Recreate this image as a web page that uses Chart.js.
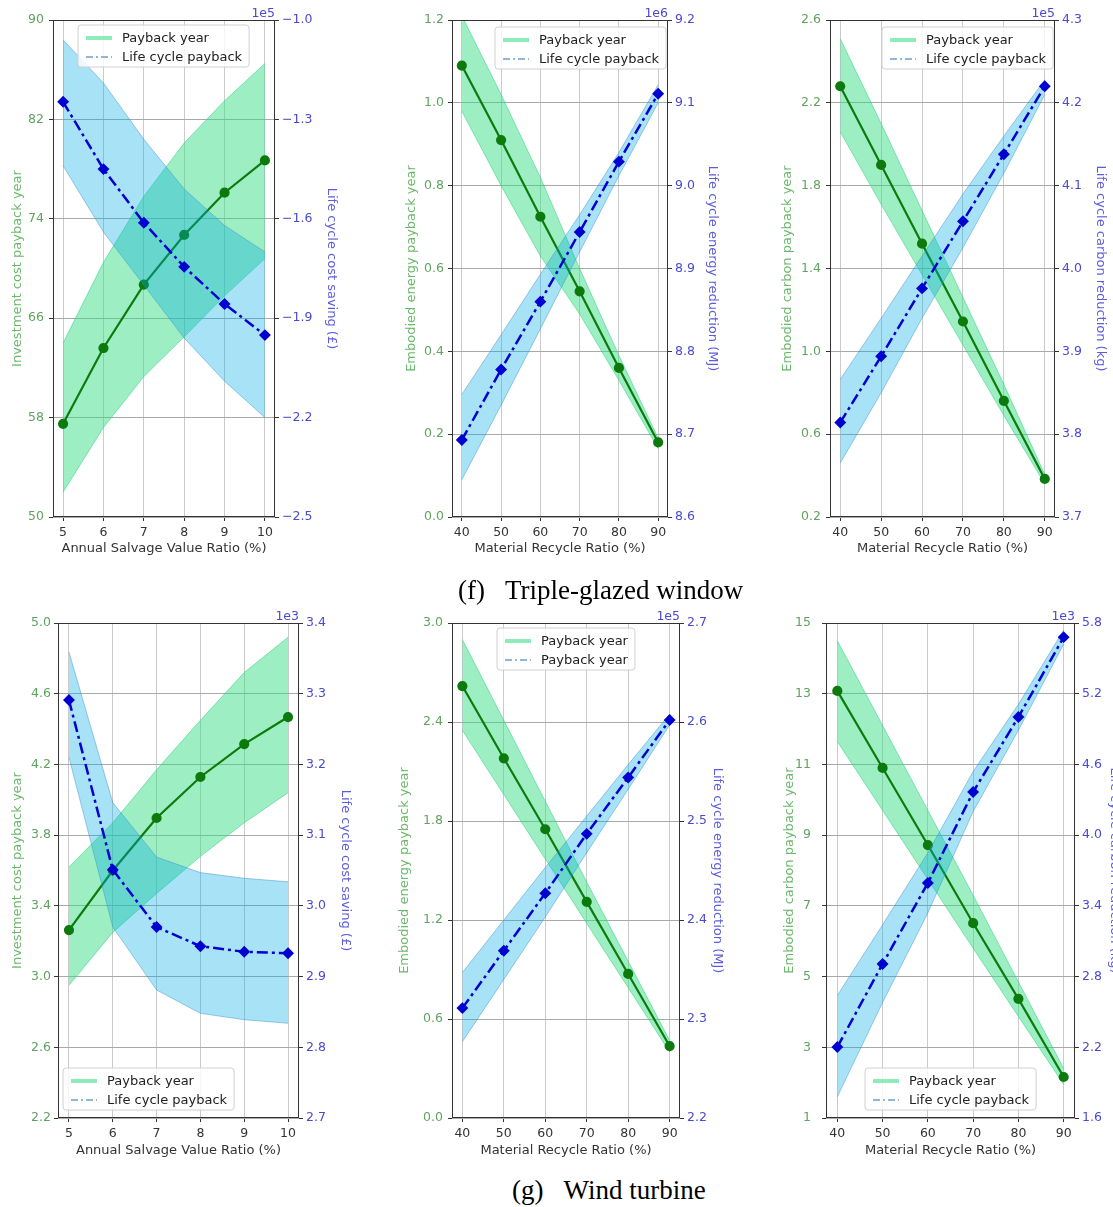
<!DOCTYPE html>
<html>
<head>
<meta charset="utf-8">
<script src="https://cdn.jsdelivr.net/npm/chart.js@4.4.0/dist/chart.umd.min.js"></script>
<style>
html, body { margin: 0; padding: 0; background: #fff; width: 1113px; height: 1207px; overflow: hidden; }
canvas { position: absolute; }
.cap { position: absolute; font-family: "Liberation Serif", "Times New Roman", serif; font-size: 27px; line-height: 27px; color: #000; white-space: pre; }
.cap span { margin-left: 20px; }
</style>
</head>
<body>
<canvas id="tl"></canvas>
<canvas id="tm"></canvas>
<canvas id="tr"></canvas>
<canvas id="bl"></canvas>
<canvas id="bm"></canvas>
<canvas id="br"></canvas>
<div class="cap" style="left:458px; top:577px;">(f)<span>Triple-glazed window</span></div>
<div class="cap" style="left:512px; top:1177px;">(g)<span>Wind turbine</span></div>

<script>
// x categories
const salvageRatio = [5, 6, 7, 8, 9, 10];
const recycleRatio = [40, 50, 60, 70, 80, 90];

// (f) triple-glazed window: investment cost vs salvage ratio
const winCostYear = [57.5, 63.6, 68.7, 72.7, 76.1, 78.7];
const winCostYearHi = [64.0, 70.5, 75.8, 80.1, 83.5, 86.5];
const winCostYearLo = [52.0, 57.2, 61.3, 64.5, 67.8, 70.8];
const winCostSaving = [-1.247, -1.45, -1.612, -1.745, -1.857, -1.951];      // x1e5
const winCostSavingHi = [-1.06, -1.19, -1.36, -1.51, -1.62, -1.70];
const winCostSavingLo = [-1.44, -1.64, -1.80, -1.96, -2.09, -2.20];

// (f) embodied energy
const winEnergyYear = [1.09, 0.91, 0.725, 0.545, 0.36, 0.18];
const winEnergyYearHi = [1.21, 1.02, 0.82, 0.60, 0.39, 0.19];
const winEnergyYearLo = [0.98, 0.80, 0.63, 0.49, 0.33, 0.165];
const winEnergyCut = [8.693, 8.778, 8.86, 8.944, 9.029, 9.111];             // x1e6
const winEnergyCutHi = [8.748, 8.82, 8.893, 8.965, 9.04, 9.122];
const winEnergyCutLo = [8.645, 8.735, 8.827, 8.92, 9.012, 9.10];

// (f) embodied carbon
const winCarbonYear = [2.28, 1.90, 1.52, 1.144, 0.761, 0.384];
const winCarbonYearHi = [2.51, 2.10, 1.68, 1.26, 0.84, 0.405];
const winCarbonYearLo = [2.06, 1.71, 1.37, 1.03, 0.69, 0.36];
const winCarbonCut = [3.814, 3.894, 3.976, 4.057, 4.138, 4.22];             // x1e5
const winCarbonCutHi = [3.866, 3.94, 4.015, 4.09, 4.16, 4.228];
const winCarbonCutLo = [3.765, 3.85, 3.94, 4.025, 4.115, 4.21];

// (g) wind turbine: investment cost
const wtCostYear = [3.263, 3.60, 3.897, 4.129, 4.315, 4.468];
const wtCostYearHi = [3.62, 3.87, 4.17, 4.45, 4.72, 4.92];
const wtCostYearLo = [2.95, 3.25, 3.47, 3.68, 3.87, 4.04];
const wtCostSaving = [3.291, 3.051, 2.970, 2.943, 2.935, 2.933];           // x1e3
const wtCostSavingHi = [3.359, 3.146, 3.069, 3.047, 3.039, 3.034];
const wtCostSavingLo = [3.21, 2.97, 2.881, 2.848, 2.839, 2.834];

// (g) embodied energy
const wtEnergyYear = [2.618, 2.18, 1.75, 1.31, 0.873, 0.436];
const wtEnergyYearHi = [2.90, 2.41, 1.92, 1.43, 0.95, 0.47];
const wtEnergyYearLo = [2.35, 1.96, 1.57, 1.18, 0.79, 0.40];
const wtEnergyCut = [2.311, 2.369, 2.427, 2.487, 2.544, 2.602];            // x1e5
const wtEnergyCutHi = [2.347, 2.400, 2.453, 2.505, 2.557, 2.608];
const wtEnergyCutLo = [2.277, 2.340, 2.403, 2.468, 2.532, 2.597];

// (g) embodied carbon
const wtCarbonYear = [13.08, 10.90, 8.72, 6.51, 4.37, 2.16];
const wtCarbonYearHi = [14.5, 12.1, 9.7, 7.3, 4.85, 2.4];
const wtCarbonYearLo = [11.65, 9.7, 7.75, 5.8, 3.87, 1.95];
const wtCarbonCut = [2.202, 2.907, 3.594, 4.366, 5.002, 5.68];             // x1e3
const wtCarbonCutHi = [2.64, 3.24, 3.85, 4.54, 5.11, 5.74];
const wtCarbonCutLo = [1.78, 2.58, 3.34, 4.20, 4.89, 5.62];

// tick labels
const ticksWinCostL = [50, 58, 66, 74, 82, 90];
const ticksWinCostR = [-2.5, -2.2, -1.9, -1.6, -1.3, -1.0];
const ticksWinEnergyL = [0.0, 0.2, 0.4, 0.6, 0.8, 1.0, 1.2];
const ticksWinEnergyR = [8.6, 8.7, 8.8, 8.9, 9.0, 9.1, 9.2];
const ticksWinCarbonL = [0.2, 0.6, 1.0, 1.4, 1.8, 2.2, 2.6];
const ticksWinCarbonR = [3.7, 3.8, 3.9, 4.0, 4.1, 4.2, 4.3];
const ticksWtCostL = [2.2, 2.6, 3.0, 3.4, 3.8, 4.2, 4.6, 5.0];
const ticksWtCostR = [2.7, 2.8, 2.9, 3.0, 3.1, 3.2, 3.3, 3.4];
const ticksWtEnergyL = [0.0, 0.6, 1.2, 1.8, 2.4, 3.0];
const ticksWtEnergyR = [2.2, 2.3, 2.4, 2.5, 2.6, 2.7];
const ticksWtCarbonL = [1, 3, 5, 7, 9, 11, 13, 15];
const ticksWtCarbonR = [1.6, 2.2, 2.8, 3.4, 4.0, 4.6, 5.2, 5.8];

const FONT = '"DejaVu Sans", sans-serif';
const GREEN = '#0c7a0c';
const BLUE = '#0000d0';
const GREEN_FILL = 'rgba(50, 220, 130, 0.48)';
const GREEN_EDGE = 'rgba(50, 210, 130, 0.55)';
const BLUE_FILL = 'rgba(0, 170, 230, 0.34)';
const BLUE_EDGE = 'rgba(60, 140, 200, 0.45)';
const LEFT_TICK = '#5fa35f';
const LEFT_TITLE = '#6cb86c';
const RIGHT_TICK = '#4a4ad0';
const RIGHT_TITLE = '#5d5ddc';
const PT = 20, HB = 45, LH = 13 * 1.2;

function pts(xs, ys) {
    return xs.map((x, i) => ({ x: x, y: ys[i] }));
}

function fmt(v, dec) {
    return v.toFixed(dec).replace('-', '\u2212');
}

// frame, offset text and legend drawn on top of the data
const decorPlugin = {
    id: 'decor',
    afterDatasetsDraw(chart, args, opts) {
        const ctx = chart.ctx;
        const a = chart.chartArea;
        ctx.save();
        ctx.strokeStyle = '#333';
        ctx.lineWidth = 1;
        ctx.strokeRect(Math.round(a.left) + 0.5, Math.round(a.top) + 0.5,
            Math.round(a.right - a.left) - 1, Math.round(a.bottom - a.top) - 1);

        ctx.fillStyle = RIGHT_TICK;
        ctx.font = '12.5px ' + FONT;
        ctx.textAlign = 'right';
        ctx.textBaseline = 'alphabetic';
        ctx.fillText(opts.exponent, a.right, a.top - 3);

        const lg = opts.legend;
        ctx.font = '13px ' + FONT;
        const tw = Math.max(...lg.labels.map(t => ctx.measureText(t).width));
        const w = 8 + 26 + 10 + tw + 7, h = 42;
        const x0 = a.left + lg.dx;
        const y0 = lg.bottom ? a.bottom - lg.dy - h : a.top + lg.dy;
        const r = 3;
        ctx.beginPath();
        ctx.moveTo(x0 + r, y0);
        ctx.lineTo(x0 + w - r, y0);
        ctx.arcTo(x0 + w, y0, x0 + w, y0 + r, r);
        ctx.lineTo(x0 + w, y0 + h - r);
        ctx.arcTo(x0 + w, y0 + h, x0 + w - r, y0 + h, r);
        ctx.lineTo(x0 + r, y0 + h);
        ctx.arcTo(x0, y0 + h, x0, y0 + h - r, r);
        ctx.lineTo(x0, y0 + r);
        ctx.arcTo(x0, y0, x0 + r, y0, r);
        ctx.closePath();
        ctx.fillStyle = 'rgba(255,255,255,0.8)';
        ctx.fill();
        ctx.strokeStyle = '#d0d0d0';
        ctx.stroke();

        const rows = [y0 + 13, y0 + 32];
        ctx.lineWidth = 4;
        ctx.strokeStyle = 'rgba(50, 220, 130, 0.55)';
        ctx.beginPath();
        ctx.moveTo(x0 + 8, rows[0]);
        ctx.lineTo(x0 + 34, rows[0]);
        ctx.stroke();
        ctx.lineWidth = 1.5;
        ctx.strokeStyle = '#6f9fcf';
        ctx.setLineDash([7, 3, 2, 3]);
        ctx.beginPath();
        ctx.moveTo(x0 + 8, rows[1]);
        ctx.lineTo(x0 + 34, rows[1]);
        ctx.stroke();
        ctx.setLineDash([]);

        ctx.fillStyle = '#222';
        ctx.textAlign = 'left';
        ctx.textBaseline = 'middle';
        lg.labels.forEach((t, i) => ctx.fillText(t, x0 + 44, rows[i] + 1));
        ctx.restore();
    }
};

function buildChart(p) {
    const canvas = document.getElementById(p.id);
    const cw = p.wl + (p.R - p.L) + p.wr;
    const ch = PT + (p.B - p.T) + HB;
    canvas.width = cw;
    canvas.height = ch;
    canvas.style.width = cw + 'px';
    canvas.style.height = ch + 'px';
    canvas.style.left = (p.L - p.wl) + 'px';
    canvas.style.top = (p.T - PT) + 'px';

    const lt = p.left.ticks, rt = p.right.ticks;

    new Chart(canvas, {
        type: 'line',
        data: {
            datasets: [
                { data: pts(p.xs, p.greenHi), yAxisID: 'y', fill: '+1', backgroundColor: GREEN_FILL,
                  borderColor: GREEN_EDGE, borderWidth: 1, pointRadius: 0, order: 4 },
                { data: pts(p.xs, p.greenLo), yAxisID: 'y', fill: false,
                  borderColor: GREEN_EDGE, borderWidth: 1, pointRadius: 0, order: 4 },
                { data: pts(p.xs, p.green), yAxisID: 'y', fill: false, borderColor: GREEN,
                  backgroundColor: GREEN, borderWidth: 2.2, pointRadius: 4, pointStyle: 'circle',
                  pointBorderColor: GREEN, order: 3 },
                { data: pts(p.xs, p.blueHi), yAxisID: 'y1', fill: '+1', backgroundColor: BLUE_FILL,
                  borderColor: BLUE_EDGE, borderWidth: 1, pointRadius: 0, order: 2 },
                { data: pts(p.xs, p.blueLo), yAxisID: 'y1', fill: false,
                  borderColor: BLUE_EDGE, borderWidth: 1, pointRadius: 0, order: 2 },
                { data: pts(p.xs, p.blue), yAxisID: 'y1', fill: false, borderColor: BLUE,
                  backgroundColor: BLUE, borderWidth: 2.5, borderDash: [11, 4, 3, 4],
                  pointRadius: 4.2, pointStyle: 'rectRot', pointBorderColor: BLUE, order: 1 }
            ]
        },
        options: {
            responsive: false,
            animation: false,
            devicePixelRatio: 1,
            layout: { padding: { top: PT, left: 0, right: 0, bottom: 0 } },
            elements: { line: { tension: 0 } },
            plugins: {
                legend: { display: false },
                tooltip: { enabled: false },
                decor: { exponent: p.exp, legend: p.legend }
            },
            scales: {
                x: {
                    type: 'linear',
                    position: 'bottom',
                    min: p.xMin,
                    max: p.xMax,
                    afterBuildTicks: s => { s.ticks = p.xs.map(v => ({ value: v })); },
                    afterFit: s => { s.height = HB; },
                    grid: { color: '#cbcbcb', tickColor: '#333', tickLength: 4 },
                    border: { display: false },
                    ticks: { color: '#333', font: { family: FONT, size: 12.5 }, padding: 4,
                             maxRotation: 0, autoSkip: false, callback: v => String(v) },
                    title: { display: true, text: p.xTitle, color: '#333', font: { family: FONT, size: 13 },
                             padding: { top: 0, bottom: (p.B + HB) - p.xTitleY - LH / 2 } }
                },
                y: {
                    type: 'linear',
                    position: 'left',
                    min: lt[0],
                    max: lt[lt.length - 1],
                    afterBuildTicks: s => { s.ticks = lt.map(v => ({ value: v })); },
                    afterFit: s => { s.width = p.wl; },
                    grid: { color: '#a9a9a9', tickColor: '#333', tickLength: 4 },
                    border: { display: false },
                    ticks: { color: LEFT_TICK, font: { family: FONT, size: 12.5 }, padding: p.left.pad,
                             autoSkip: false, callback: v => fmt(v, p.left.dec) },
                    title: { display: true, text: p.left.title, color: LEFT_TITLE, font: { family: FONT, size: 13 },
                             padding: { top: p.left.titleX - (p.L - p.wl) - LH / 2, bottom: 0 } }
                },
                y1: {
                    type: 'linear',
                    position: 'right',
                    min: rt[0],
                    max: rt[rt.length - 1],
                    afterBuildTicks: s => { s.ticks = rt.map(v => ({ value: v })); },
                    afterFit: s => { s.width = p.wr; },
                    grid: { drawOnChartArea: false, tickColor: '#333', tickLength: 4 },
                    border: { display: false },
                    ticks: { color: RIGHT_TICK, font: { family: FONT, size: 12.5 }, padding: 3,
                             autoSkip: false, callback: v => fmt(v, 1) },
                    title: { display: true, text: p.right.title, color: RIGHT_TITLE, font: { family: FONT, size: 13 },
                             padding: { top: (p.R + p.wr) - p.right.titleX - LH / 2, bottom: 0 } }
                }
            }
        },
        plugins: [decorPlugin]
    });
}

const LEG_LC = ['Payback year', 'Life cycle payback'];

const panels = [
    { id: 'tl', L: 53, R: 275, T: 20, B: 517, wl: 53, wr: 70, xTitleY: 549,
      xs: salvageRatio, xMin: 4.75, xMax: 10.25, xTitle: 'Annual Salvage Value Ratio (%)',
      left: { ticks: ticksWinCostL, dec: 0, title: 'Investment cost payback year', titleX: 18, pad: 5 },
      right: { ticks: ticksWinCostR, title: 'Life cycle cost saving (£)', titleX: 331 },
      exp: '1e5', legend: { dx: 25, dy: 5, bottom: false, labels: LEG_LC },
      green: winCostYear, greenHi: winCostYearHi, greenLo: winCostYearLo,
      blue: winCostSaving, blueHi: winCostSavingHi, blueLo: winCostSavingLo },
    { id: 'tm', L: 452, R: 668, T: 20, B: 517, wl: 60, wr: 60, xTitleY: 549,
      xs: recycleRatio, xMin: 37.5, xMax: 92.5, xTitle: 'Material Recycle Ratio (%)',
      left: { ticks: ticksWinEnergyL, dec: 1, title: 'Embodied energy payback year', titleX: 412, pad: 4 },
      right: { ticks: ticksWinEnergyR, title: 'Life cycle energy reduction (MJ)', titleX: 712 },
      exp: '1e6', legend: { dx: 43, dy: 7, bottom: false, labels: LEG_LC },
      green: winEnergyYear, greenHi: winEnergyYearHi, greenLo: winEnergyYearLo,
      blue: winEnergyCut, blueHi: winEnergyCutHi, blueLo: winEnergyCutLo },
    { id: 'tr', L: 830, R: 1055, T: 20, B: 517, wl: 60, wr: 58, xTitleY: 549,
      xs: recycleRatio, xMin: 37.5, xMax: 92.5, xTitle: 'Material Recycle Ratio (%)',
      left: { ticks: ticksWinCarbonL, dec: 1, title: 'Embodied carbon payback year', titleX: 788, pad: 5 },
      right: { ticks: ticksWinCarbonR, title: 'Life cycle carbon reduction (kg)', titleX: 1100 },
      exp: '1e5', legend: { dx: 52, dy: 7, bottom: false, labels: LEG_LC },
      green: winCarbonYear, greenHi: winCarbonYearHi, greenLo: winCarbonYearLo,
      blue: winCarbonCut, blueHi: winCarbonCutHi, blueLo: winCarbonCutLo },
    { id: 'bl', L: 58, R: 299, T: 623, B: 1118, wl: 58, wr: 60, xTitleY: 1151,
      xs: salvageRatio, xMin: 4.75, xMax: 10.25, xTitle: 'Annual Salvage Value Ratio (%)',
      left: { ticks: ticksWtCostL, dec: 1, title: 'Investment cost payback year', titleX: 18, pad: 3 },
      right: { ticks: ticksWtCostR, title: 'Life cycle cost saving (£)', titleX: 345 },
      exp: '1e3', legend: { dx: 5, dy: 8, bottom: true, labels: LEG_LC },
      green: wtCostYear, greenHi: wtCostYearHi, greenLo: wtCostYearLo,
      blue: wtCostSaving, blueHi: wtCostSavingHi, blueLo: wtCostSavingLo },
    { id: 'bm', L: 452, R: 680, T: 623, B: 1118, wl: 60, wr: 50, xTitleY: 1151,
      xs: recycleRatio, xMin: 37.5, xMax: 92.5, xTitle: 'Material Recycle Ratio (%)',
      left: { ticks: ticksWtEnergyL, dec: 1, title: 'Embodied energy payback year', titleX: 405, pad: 5 },
      right: { ticks: ticksWtEnergyR, title: 'Life cycle energy reduction (MJ)', titleX: 717 },
      exp: '1e5', legend: { dx: 45, dy: 5, bottom: false, labels: ['Payback year', 'Payback year'] },
      green: wtEnergyYear, greenHi: wtEnergyYearHi, greenLo: wtEnergyYearLo,
      blue: wtEnergyCut, blueHi: wtEnergyCutHi, blueLo: wtEnergyCutLo },
    { id: 'br', L: 826, R: 1075, T: 623, B: 1118, wl: 60, wr: 50, xTitleY: 1151,
      xs: recycleRatio, xMin: 37.5, xMax: 92.5, xTitle: 'Material Recycle Ratio (%)',
      left: { ticks: ticksWtCarbonL, dec: 0, title: 'Embodied carbon payback year', titleX: 790, pad: 11 },
      right: { ticks: ticksWtCarbonR, title: 'Life cycle carbon reduction (kg)', titleX: 1114 },
      exp: '1e3', legend: { dx: 39, dy: 8, bottom: true, labels: LEG_LC },
      green: wtCarbonYear, greenHi: wtCarbonYearHi, greenLo: wtCarbonYearLo,
      blue: wtCarbonCut, blueHi: wtCarbonCutHi, blueLo: wtCarbonCutLo }
];

panels.forEach(buildChart);
</script>
</body>
</html>
